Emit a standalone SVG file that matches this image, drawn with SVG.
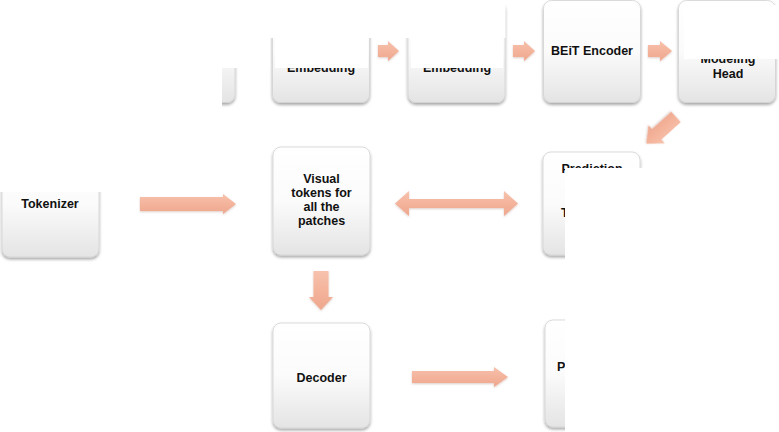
<svg xmlns="http://www.w3.org/2000/svg" width="779" height="432" viewBox="0 0 779 432">
<defs>
<linearGradient id="boxg" x1="0" y1="0" x2="0" y2="1">
<stop offset="0" stop-color="#ffffff"/>
<stop offset="0.5" stop-color="#fbfbfb"/>
<stop offset="1" stop-color="#e4e4e4"/>
</linearGradient>
<linearGradient id="arrg" x1="0" y1="0" x2="0" y2="1">
<stop offset="0" stop-color="#f7c2ad"/>
<stop offset="0.5" stop-color="#f4b39b"/>
<stop offset="1" stop-color="#eea88f"/>
</linearGradient>
<filter id="sh" x="-10%" y="-10%" width="120%" height="125%">
<feDropShadow dx="0" dy="2" stdDeviation="1.6" flood-color="#000" flood-opacity="0.35"/>
</filter>
<filter id="ash" x="-10%" y="-20%" width="120%" height="150%">
<feDropShadow dx="0" dy="1" stdDeviation="1" flood-color="#a07060" flood-opacity="0.35"/>
</filter>
</defs>
<style>
.box{fill:url(#boxg);stroke:#d2d2d2;stroke-width:0.8;filter:url(#sh)}
.arr{fill:url(#arrg);filter:url(#ash)}
.t{font-family:"Liberation Sans",Arial,sans-serif;font-weight:bold;font-size:12.5px;fill:#111;text-anchor:middle}
.ts{font-family:"Liberation Sans",Arial,sans-serif;font-weight:bold;font-size:12.5px;fill:#111;text-anchor:start}
.mask{fill:#ffffff}
</style>
<rect width="779" height="432" fill="#ffffff"/>

<g id="node-left-top"><rect class="box" x="137" y="0.5" width="98" height="102" rx="8"/></g>
<g id="node-patch-embedding"><rect class="box" x="272.5" y="0.5" width="97" height="102" rx="8"/><text class="t" x="321" y="72">Embedding</text></g>
<g id="node-position-embedding"><rect class="box" x="408" y="0.5" width="97" height="102" rx="8"/><text class="t" x="457" y="72">Embedding</text></g>
<g id="node-beit-encoder"><rect class="box" x="543.5" y="0.5" width="97" height="102" rx="8"/><text class="t" x="592" y="55">BEiT Encoder</text></g>
<g id="node-modeling-head"><rect class="box" x="678.5" y="0.5" width="97" height="102" rx="8"/><text class="t" x="728" y="63">Modeling</text><text class="t" x="728" y="78">Head</text></g>

<g id="node-tokenizer"><rect class="box" x="2" y="150" width="97" height="107" rx="8"/><text class="t" x="50" y="208">Tokenizer</text></g>
<g id="node-visual-tokens"><rect class="box" x="273" y="147" width="97" height="108" rx="8"/><text class="t" x="321.5" y="183">Visual</text><text class="t" x="321.5" y="197">tokens for</text><text class="t" x="321.5" y="211">all the</text><text class="t" x="321.5" y="225">patches</text></g>
<g id="node-prediction"><rect class="box" x="543" y="152" width="97" height="103" rx="8"/><text class="t" x="592" y="172.5">Prediction</text><text class="ts" x="561" y="217">T</text></g>

<g id="node-decoder"><rect class="box" x="273" y="323" width="97" height="105" rx="8"/><text class="t" x="321.5" y="382">Decoder</text></g>
<g id="node-lower-right"><rect class="box" x="545" y="320" width="97" height="107" rx="8"/><text class="ts" x="557" y="371">P</text></g>

<g id="connectors">
<polygon class="arr" points="378,45 388,45 388,41 399,51 388,61 388,57 378,57"/>
<polygon class="arr" points="513,45 524,45 524,41 535,51 524,61 524,57 513,57"/>
<polygon class="arr" points="648,45 660,45 660,41 672,51 660,61 660,57 648,57"/>
<g transform="translate(676,117) rotate(138)"><polygon class="arr" points="0,-7 26,-7 26,-12 40,0 26,12 26,7 0,7"/></g>
<polygon class="arr" points="140,197 223,197 223,194 236,204 223,214 223,211 140,211"/>
<polygon class="arr" points="395,203.5 409,191 409,199 504,199 504,191 518,203.5 504,216 504,208 409,208 409,216"/>
<polygon class="arr" points="313.5,271 328.5,271 328.5,297 333,297 321,310 309,297 313.5,297"/>
<polygon class="arr" points="412,371 494,371 494,367 508,377 494,387 494,383 412,383"/>
</g>

<g id="crop-masks">
<rect class="mask" x="0" y="0" width="222" height="192"/>
<rect class="mask" x="222" y="0" width="48" height="68"/>
<rect class="mask" x="270" y="0" width="235.5" height="38"/>
<rect class="mask" x="275" y="38" width="93" height="30"/>
<rect class="mask" x="411" y="38" width="92" height="30"/>
<rect class="mask" x="684" y="5" width="95" height="54"/>
<rect class="mask" x="565" y="168" width="214" height="264"/>
</g>
</svg>
